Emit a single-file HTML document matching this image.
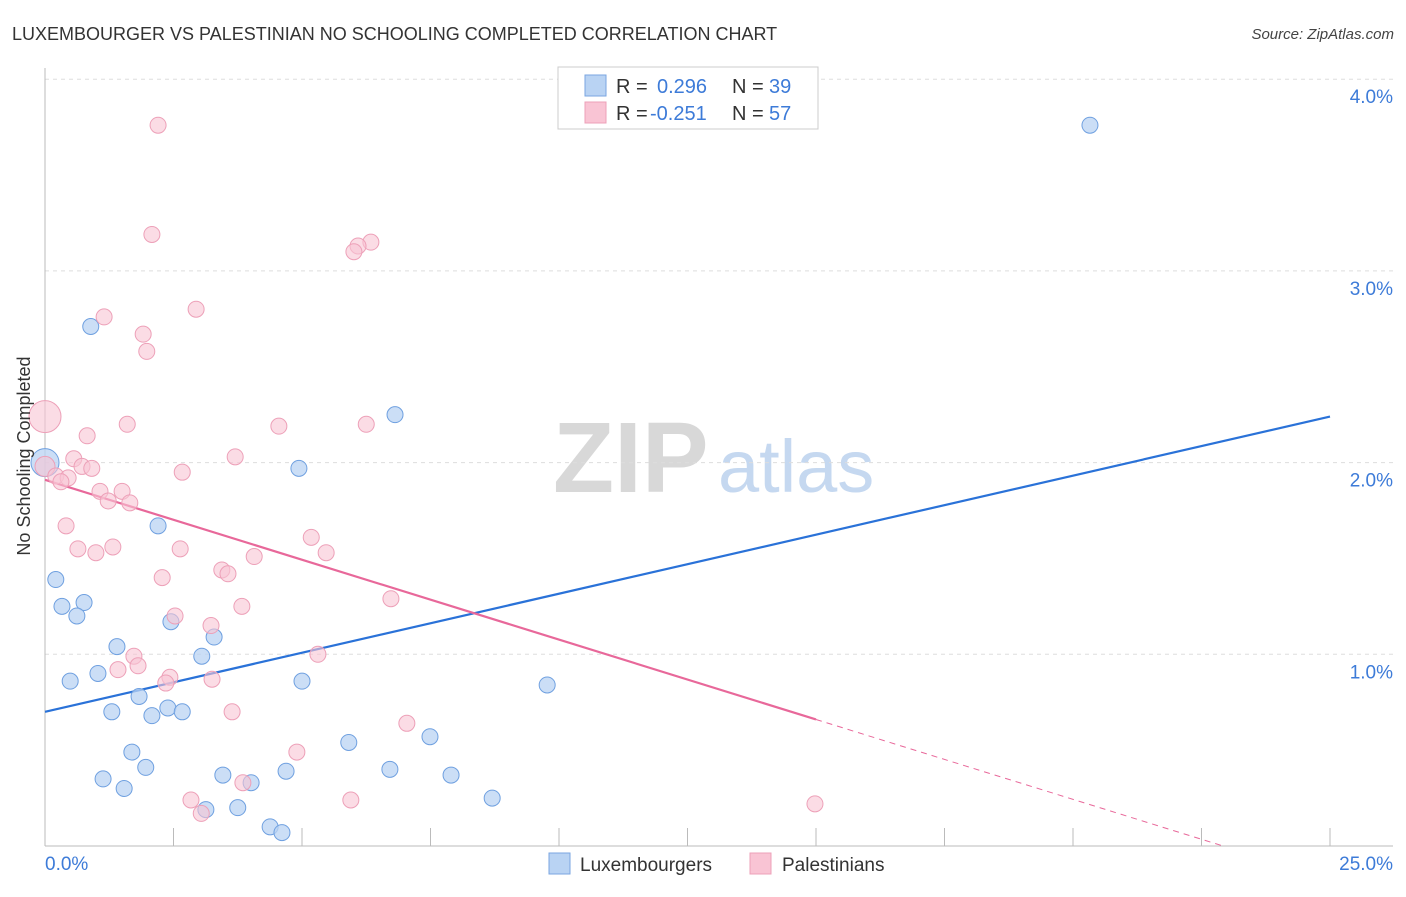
<!DOCTYPE html>
<html><head><meta charset="utf-8"><style>
body{margin:0;background:#fff;font-family:"Liberation Sans",sans-serif;}
svg text{font-family:"Liberation Sans",sans-serif;}
</style></head><body>
<svg id="chart" width="1406" height="892" xmlns="http://www.w3.org/2000/svg">
<text x="12" y="40" font-size="18" fill="#333">LUXEMBOURGER VS PALESTINIAN NO SCHOOLING COMPLETED CORRELATION CHART</text>
<text x="1394" y="39" font-size="15" fill="#444" font-style="italic" text-anchor="end">Source: ZipAtlas.com</text>
<g>
<text x="553" y="492" font-size="100" fill="#d8d8d8" font-family="Liberation Serif" font-weight="bold">ZIP</text>
<text x="718" y="492" font-size="74" fill="#c5d8f0">atlas</text>
</g>
<g id="grid"></g>
<g id="axes"></g>
<g id="lines"></g>
<g id="points"></g>
<text transform="translate(30,456) rotate(-90)" font-size="18" fill="#333" text-anchor="middle">No Schooling Completed</text>
<g>
<rect x="558" y="67" width="260" height="62" fill="#fff" stroke="#ccc"/>
<rect x="585" y="75" width="21" height="21" fill="#b9d3f3" stroke="#7aa6e0"/>
<text x="616" y="93" font-size="20" fill="#333">R = </text><text x="657" y="93" font-size="20" fill="#3d7bd8">0.296</text>
<text x="732" y="93" font-size="20" fill="#333">N = </text><text x="769" y="93" font-size="20" fill="#3d7bd8">39</text>
<rect x="585" y="102" width="21" height="21" fill="#f9c4d4" stroke="#eda0b8"/>
<text x="616" y="120" font-size="20" fill="#333">R = </text><text x="650" y="120" font-size="20" fill="#3d7bd8">-0.251</text>
<text x="732" y="120" font-size="20" fill="#333">N = </text><text x="769" y="120" font-size="20" fill="#3d7bd8">57</text>
</g>
<g>
<rect x="549" y="853" width="21" height="21" fill="#b9d3f3" stroke="#7aa6e0"/>
<text x="580" y="871" font-size="19" fill="#333">Luxembourgers</text>
<rect x="750" y="853" width="21" height="21" fill="#f9c4d4" stroke="#eda0b8"/>
<text x="782" y="871" font-size="19" fill="#333">Palestinians</text>
</g>
</svg>
<script>
const yTicks=[1,2,3,4];
const yTickLabels=["1.0%","2.0%","3.0%","4.0%"];
const xTicks=[0,2.5,5,7.5,10,12.5,15,17.5,20,22.5,25];
const xEndLabels=["0.0%","25.0%"];
const luxX=[0,0.89,6.81,4.94,2.20,0.21,0.33,0.76,0.62,2.45,3.29,1.40,3.05,1.03,0.49,5.00,9.77,1.83,1.30,2.39,2.67,2.08,5.91,7.49,1.69,1.96,6.71,7.90,1.13,3.46,4.69,4.01,1.54,8.70,3.13,3.75,4.38,4.61,20.33];
const luxY=[2.00,2.71,2.25,1.97,1.67,1.39,1.25,1.27,1.20,1.17,1.09,1.04,0.99,0.90,0.86,0.86,0.84,0.78,0.70,0.72,0.70,0.68,0.54,0.57,0.49,0.41,0.40,0.37,0.35,0.37,0.39,0.33,0.30,0.25,0.19,0.20,0.10,0.07,3.76];
const palX=[0,2.20,2.08,6.34,6.09,6.01,2.94,1.15,1.91,1.98,1.60,4.55,6.25,0.82,3.70,0.56,0,0.72,0.91,2.67,0.21,0.45,0.31,1.07,1.50,1.23,1.65,0.41,5.18,0.64,1.32,0.99,2.63,5.47,4.07,3.44,3.56,2.28,6.73,3.83,2.53,3.23,5.31,1.73,1.81,1.42,2.43,2.35,3.25,3.64,7.04,4.90,2.84,5.95,3.85,3.04,14.98];
const palY=[2.24,3.76,3.19,3.15,3.13,3.10,2.80,2.76,2.67,2.58,2.20,2.19,2.20,2.14,2.03,2.02,1.98,1.98,1.97,1.95,1.93,1.92,1.90,1.85,1.85,1.80,1.79,1.67,1.61,1.55,1.56,1.53,1.55,1.53,1.51,1.44,1.42,1.40,1.29,1.25,1.20,1.15,1.00,0.99,0.94,0.92,0.88,0.85,0.87,0.70,0.64,0.49,0.24,0.24,0.33,0.17,0.22];
const luxSize=[14,8,8,8,8,8,8,8,8,8,8,8,8,8,8,8,8,8,8,8,8,8,8,8,8,8,8,8,8,8,8,8,8,8,8,8,8,8,8];
const palSize=[16,8,8,8,8,8,8,8,8,8,8,8,8,8,8,8,10,8,8,8,8,8,8,8,8,8,8,8,8,8,8,8,8,8,8,8,8,8,8,8,8,8,8,8,8,8,8,8,8,8,8,8,8,8,8,8,8];
const luxTrend=[0.70,2.24];
const palTrendStart=1.91, palTrendEndSolid=0.66, palSolidX=15;
const NS="http://www.w3.org/2000/svg";
const X=v=>45+v*51.4, Y=v=>846-v*191.7;
function mk(p,t,a){const e=document.createElementNS(NS,t);for(const k in a)e.setAttribute(k,a[k]);document.getElementById(p).appendChild(e);return e;}
yTicks.forEach((t,i)=>{
 const l=mk('grid','line',{x1:45,x2:1393,y1:Y(t),y2:Y(t),stroke:'#ddd','stroke-dasharray':'4,4'});
 
 
 const tx=mk('grid','text',{x:1393,y:Y(t)+24,'font-size':19,fill:'#3d7bd8','text-anchor':'end'});tx.textContent=yTickLabels[i];
 
 
});
const al=mk('axes','line',{x1:45,x2:45,y1:68,y2:846,stroke:'#bbb'});


const bl=mk('axes','line',{x1:45,x2:1393,y1:846,y2:846,stroke:'#bbb'});


xTicks.forEach(t=>{const k=mk('axes','line',{x1:X(t),x2:X(t),y1:828,y2:846,stroke:'#bbb'});
 
 });
const x0=mk('axes','text',{x:45,y:870,'font-size':19,fill:'#3d7bd8'});x0.textContent=xEndLabels[0];


const x1=mk('axes','text',{x:1393,y:870,'font-size':19,fill:'#3d7bd8','text-anchor':'end'});x1.textContent=xEndLabels[1];


luxX.forEach((v,i)=>{const c=mk('points','circle',{cx:X(v),cy:Y(luxY[i]),r:luxSize[i],fill:'#b9d3f3','fill-opacity':0.75,stroke:'#6fa0e0','stroke-width':1});
 
 });
palX.forEach((v,i)=>{const c=mk('points','circle',{cx:X(v),cy:Y(palY[i]),r:palSize[i],fill:'#f9c4d4','fill-opacity':0.6,stroke:'#eda0b8','stroke-width':1});
 
 });
const lt=mk('lines','line',{x1:X(0),y1:Y(luxTrend[0]),x2:X(25),y2:Y(luxTrend[1]),stroke:'#2a72d8','stroke-width':2.2});


const slope=(palTrendEndSolid-palTrendStart)/palSolidX;
const pt=mk('lines','line',{x1:X(0),y1:Y(palTrendStart),x2:X(palSolidX),y2:Y(palTrendEndSolid),stroke:'#e8689a','stroke-width':2.2});


const xz=-palTrendStart/slope;
const pd=mk('lines','line',{x1:X(palSolidX),y1:Y(palTrendEndSolid),x2:X(xz),y2:Y(0),stroke:'#e8689a','stroke-width':1,'stroke-dasharray':'6,5'});


</script>
</body></html>
